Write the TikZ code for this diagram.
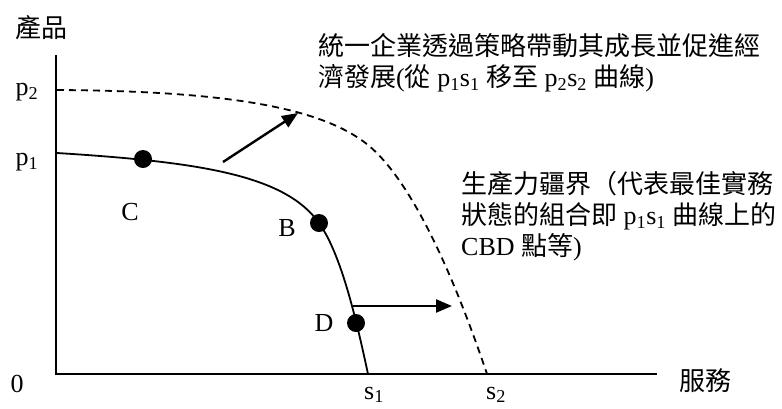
\documentclass[tikz,border=0pt]{standalone}
\usepackage{fontspec}
\setmainfont{Liberation Serif}
\newfontfamily\cjk{Noto Sans CJK TC}
\usetikzlibrary{arrows.meta}
\tikzset{
  axis/.style={line width=1.8pt},
  frontier/.style={line width=1.8pt},
  newfrontier/.style={line width=1.8pt, dash pattern=on 7pt off 5pt},
  shift arrow/.style={line width=2.4pt, -{Triangle[length=16pt,width=13pt]}},
  dot/.style={circle, fill=black, inner sep=0pt, minimum size=18pt},
  lbl/.style={inner sep=0pt, font=\fontsize{26}{31}\selectfont},
  note/.style={inner sep=0pt, anchor=west, align=left, font=\fontsize{26}{31}\selectfont}
}
\begin{document}
\begin{tikzpicture}[x=1pt,y=-1pt]
\useasboundingbox (0,0) rectangle (782,408);
% axes
\coordinate (O) at (56,374);
\coordinate (ytop) at (56,55);
\coordinate (xend) at (657,374);
\draw[axis] (ytop) -- (O) -- (xend);
% curves
\draw[newfrontier] (57,90) .. controls (220,91) and (320,106) .. (368,145)
  .. controls (418,186) and (462,300) .. (487,374);
\draw[frontier] (57,153) .. controls (200,162) and (285,175) .. (319,223)
  .. controls (341,254) and (356,318) .. (368,374);
% dots
\node[dot] (C) at (143,159) {};
\node[dot] (B) at (319,223) {};
\node[dot] (D) at (356,323) {};
% arrows
\coordinate (a1s) at (223,162);
\coordinate (a1e) at (298,113);
\coordinate (a2s) at (353,306);
\coordinate (a2e) at (452,306);
\draw[shift arrow] (a1s) -- (a1e);
\draw[shift arrow] (a2s) -- (a2e);
% labels
\node[lbl] (ylab) at (42,28) {\cjk 產品};
\node[lbl] (xlab) at (705,381) {\cjk 服務};
\node[lbl] (zero) at (17,384) {0};
\node[lbl] (p2) at (27,92) {p\textsubscript{2}};
\node[lbl] (p1) at (27,162) {p\textsubscript{1}};
\node[lbl] (s1) at (374,395) {s\textsubscript{1}};
\node[lbl] (s2) at (496,395) {s\textsubscript{2}};
\node[lbl] (Cl) at (130,212) {C};
\node[lbl] (Bl) at (287,228) {B};
\node[lbl] (Dl) at (324,323) {D};
\node[note] (n1) at (318,63) {{\cjk 統一企業透過策略帶動其成長並促進經}\\{\cjk 濟發展}({\cjk 從} p\textsubscript{1}s\textsubscript{1} {\cjk 移至} p\textsubscript{2}s\textsubscript{2} {\cjk 曲線})};
\node[note] (n2) at (461,216) {{\cjk 生產力疆界（代表最佳實務}\\{\cjk 狀態的組合即} p\textsubscript{1}s\textsubscript{1} {\cjk 曲線上的}\\CBD {\cjk 點等})};
\end{tikzpicture}
\end{document}
